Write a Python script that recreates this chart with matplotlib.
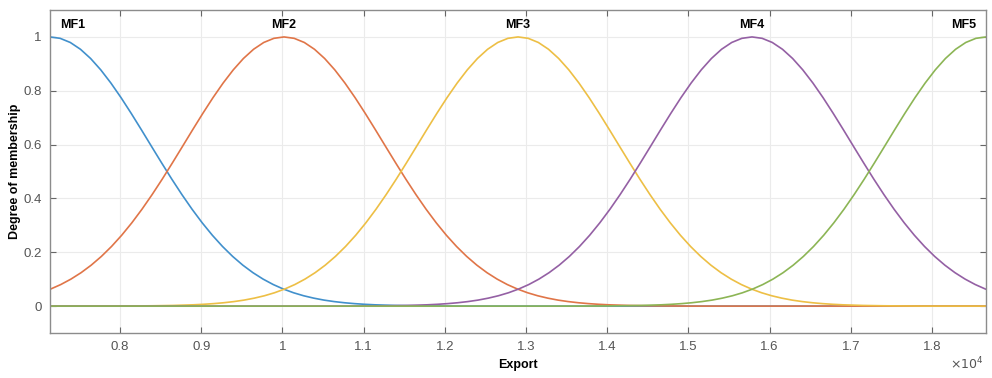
import numpy as np
import matplotlib.pyplot as plt

plt.rcParams['font.family'] = ['Liberation Sans', 'DejaVu Sans']

# membership profile: value vs. distance from the MF centre
offsets = [0, 125, 250, 375, 500, 625, 750, 875, 1000, 1125, 1250, 1375, 1500,
           1625, 1750, 1875, 2000, 2125, 2250, 2375, 2500, 2625, 2750, 2875,
           3000, 3125, 3250, 3375, 3500, 3625, 3750, 3875, 4000, 4250, 4500,
           4750, 5000, 12000]
profile = [1.0, 0.9948, 0.9794, 0.9542, 0.9200, 0.8778, 0.8288, 0.7745, 0.7162,
           0.6555, 0.5936, 0.5321, 0.4719, 0.4143, 0.3599, 0.3094, 0.2632,
           0.2216, 0.1846, 0.1522, 0.1242, 0.1003, 0.0801, 0.0634, 0.0496,
           0.0384, 0.0295, 0.0223, 0.0168, 0.0125, 0.0092, 0.0067, 0.0048,
           0.0024, 0.0012, 0.0005, 0.0, 0.0]

mf_names = ['MF1', 'MF2', 'MF3', 'MF4', 'MF5']
centers = [7136, 10019, 12902, 15784, 18667]
colors = ['#4190cc', '#e07548', '#edbf45', '#9460a4', '#8cb555']

xticks = [8000, 9000, 10000, 11000, 12000, 13000, 14000, 15000, 16000, 17000, 18000]
xticklabels = ['0.8', '0.9', '1', '1.1', '1.2', '1.3', '1.4', '1.5', '1.6', '1.7', '1.8']
yticks = [0, 0.2, 0.4, 0.6, 0.8, 1]
yticklabels = ['0', '0.2', '0.4', '0.6', '0.8', '1']

x_min, x_max = 7136, 18667

fig = plt.figure(figsize=(9.92, 3.78), dpi=100)
ax = fig.add_axes([0.0504, 0.119, 0.9436, 0.8545])

off = np.array(offsets, dtype=float)
prof = np.array(profile)
for name, c, col in zip(mf_names, centers, colors):
    xs = np.concatenate([c - off[::-1], c + off[1:]])
    ys = np.concatenate([prof[::-1], prof[1:]])
    ax.plot(xs, ys, color=col, lw=1.2)
    if c == x_min:
        ax.text(c + 120, 1.045, name, ha='left', va='center', fontsize=9, fontweight='bold')
    elif c == x_max:
        ax.text(c - 120, 1.045, name, ha='right', va='center', fontsize=9, fontweight='bold')
    else:
        ax.text(c, 1.045, name, ha='center', va='center', fontsize=9, fontweight='bold')

ax.set_xlim(x_min, x_max)
ax.set_ylim(-0.1, 1.1)
ax.set_xticks(xticks)
ax.set_xticklabels(xticklabels)
ax.set_yticks(yticks)
ax.set_yticklabels(yticklabels)
ax.tick_params(direction='in', length=4, top=True, right=True, colors='#666666',
               labelsize=9.5, labelcolor='#555555', pad=6)
ax.grid(True, color='#ebebeb', lw=0.8)
ax.set_axisbelow(True)
for s in ax.spines.values():
    s.set_color('#8c8c8c')
    s.set_linewidth(1.0)

ax.set_xlabel('Export', fontsize=9, fontweight='bold', labelpad=4)
ax.set_ylabel('Degree of membership', fontsize=9, fontweight='bold', labelpad=2)
fig.text(0.991, 0.016, r'$\times10^4$', ha='right', va='bottom', fontsize=9, color='#555555')

fig.savefig('out.png', dpi=100)
